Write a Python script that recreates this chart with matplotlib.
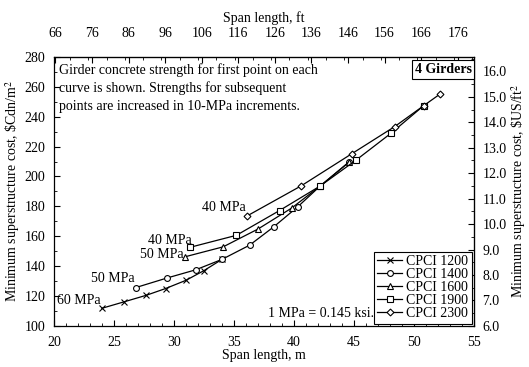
import matplotlib
matplotlib.use("Agg")
import matplotlib.pyplot as plt
from matplotlib.ticker import MultipleLocator, FixedLocator, FormatStrFormatter

plt.rcParams['font.family'] = ['Liberation Serif', 'DejaVu Serif']
plt.rcParams['mathtext.fontset'] = 'stix'

# Data (span m, cost $Cdn/m^2)
x1200 = [24.0, 25.8, 27.7, 29.3, 31.0, 32.5, 34.0]
y1200 = [111.8, 116.0, 120.5, 125.0, 130.5, 137.0, 144.5]
x1400 = [26.8, 29.4, 31.8, 34.0, 36.3, 38.3, 40.3, 42.2, 44.6]
y1400 = [125.6, 132.0, 137.5, 144.5, 154.0, 166.2, 179.6, 193.7, 209.6]
x1600 = [30.9, 34.1, 37.0, 39.8, 42.2, 44.6]
y1600 = [146.2, 152.9, 164.8, 178.8, 193.7, 209.8]
x1900 = [31.3, 35.2, 38.8, 42.2, 45.2, 48.1, 50.8]
y1900 = [152.5, 160.6, 177.2, 193.7, 211.1, 229.0, 247.3]
x2300 = [36.1, 40.6, 44.8, 48.4, 50.8, 52.2]
y2300 = [173.6, 193.7, 215.1, 233.4, 247.3, 255.3]

series = [
    ("CPCI 1200", x1200, y1200, 'x'),
    ("CPCI 1400", x1400, y1400, 'o'),
    ("CPCI 1600", x1600, y1600, '^'),
    ("CPCI 1900", x1900, y1900, 's'),
    ("CPCI 2300", x2300, y2300, 'D'),
]
ft_ticks = [66, 76, 86, 96, 106, 116, 126, 136, 146, 156, 166, 176]

fs = 10
fig = plt.figure(figsize=(5.29, 3.67), dpi=100)
ax = fig.add_axes([0.102, 0.112, 0.794, 0.733])

for name, xs, ys, m in series:
    ms = 4.2 if m != 'D' else 3.5
    ax.plot(xs, ys, color='black', lw=0.9, marker=m, ms=ms,
            mfc='white', mec='black', mew=0.8, label=name)

# start labels
ax.text(x1200[0] - 0.1, y1200[0] + 1.0, "60 MPa", ha='right', va='bottom', fontsize=fs)
ax.text(x1400[0] - 0.1, y1400[0] + 2.0, "50 MPa", ha='right', va='bottom', fontsize=fs)
ax.text(x1600[0] - 0.1, y1600[0] - 2.5, "50 MPa", ha='right', va='bottom', fontsize=fs)
ax.text(x1900[0] + 0.2, y1900[0] + 0.5, "40 MPa", ha='right', va='bottom', fontsize=fs)
ax.text(x2300[0] - 0.1, y2300[0] + 1.0, "40 MPa", ha='right', va='bottom', fontsize=fs)

ax.text(20.4, 276, "Girder concrete strength for first point on each\n"
        "curve is shown. Strengths for subsequent\n"
        "points are increased in 10-MPa increments.",
        ha='left', va='top', fontsize=fs, linespacing=1.45)
ax.text(54.8, 276, "4 Girders", ha='right', va='top', fontsize=fs,
        fontweight='bold',
        bbox=dict(boxstyle='square,pad=0.2', fc='white', ec='black', lw=0.8))
ax.text(46.7, 104, "1 MPa = 0.145 ksi.", ha='right', va='bottom', fontsize=fs)

ax.set_xlim(20, 55)
ax.set_ylim(100, 280)
ax.xaxis.set_major_locator(MultipleLocator(5))
ax.xaxis.set_minor_locator(MultipleLocator(1))
ax.yaxis.set_major_locator(MultipleLocator(20))
ax.yaxis.set_minor_locator(MultipleLocator(10))
ax.tick_params(which='both', direction='in', labelsize=fs)
ax.tick_params(which='major', length=4)
ax.tick_params(which='minor', length=2)
ax.tick_params(axis='x', pad=7)
ax.tick_params(axis='y', right=False, pad=6)
ax.set_xlabel("Span length, m", fontsize=fs, labelpad=0)
ax.set_ylabel("Minimum superstructure cost, \\$Cdn/m$^2$", fontsize=fs, labelpad=2)

# top axis (ft)
axt = ax.secondary_xaxis('top', functions=(lambda m: m / 0.3048, lambda f: f * 0.3048))
axt.xaxis.set_major_locator(FixedLocator(ft_ticks))
axt.xaxis.set_minor_locator(MultipleLocator(5))
axt.tick_params(which='both', direction='in', labelsize=fs)
axt.tick_params(which='major', length=4, pad=12)
axt.tick_params(which='minor', length=2)
axt.set_xlabel("Span length, ft", fontsize=fs, labelpad=4)

# right axis ($US/ft^2)
k = 17.03
axr = ax.secondary_yaxis('right', functions=(lambda c: 6 + (c - 100) / k, lambda u: 100 + (u - 6) * k))
axr.yaxis.set_major_locator(MultipleLocator(1))
axr.yaxis.set_minor_locator(MultipleLocator(0.5))
axr.yaxis.set_major_formatter(FormatStrFormatter('%.1f'))
axr.tick_params(which='both', direction='in', labelsize=fs)
axr.tick_params(which='major', length=4, pad=6)
axr.tick_params(which='minor', length=2)
axr.set_ylabel("Minimum superstructure cost, \\$US/ft$^2$", fontsize=fs, labelpad=2)

leg = ax.legend(loc='lower right', fontsize=fs, frameon=True, fancybox=False,
                edgecolor='black', framealpha=1, handlelength=1.8,
                labelspacing=0.0, borderpad=0.25, handletextpad=0.3,
                borderaxespad=0.15)
leg.get_frame().set_linewidth(0.8)

for s in ax.spines.values():
    s.set_linewidth(0.9)

fig.savefig("out.png", dpi=100)
